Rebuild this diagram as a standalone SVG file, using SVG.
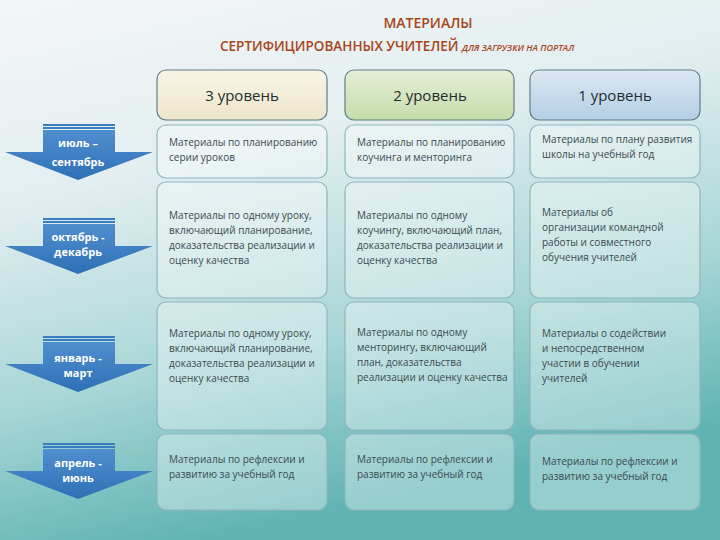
<svg xmlns="http://www.w3.org/2000/svg" width="720" height="540" viewBox="0 0 720 540">
<defs>
<linearGradient id="bg" x1="0" y1="0" x2="0.3" y2="1">
<stop offset="0" stop-color="#f4f6f7"/><stop offset="0.35" stop-color="#e2eef0"/><stop offset="0.7" stop-color="#a8d6d6"/><stop offset="1" stop-color="#5fb3b3"/>
</linearGradient>
<linearGradient id="h3" x1="0" y1="0" x2="0" y2="1"><stop offset="0" stop-color="#f8f4e6"/><stop offset="1" stop-color="#ede6cc"/></linearGradient>
<linearGradient id="h2" x1="0" y1="0" x2="0" y2="1"><stop offset="0" stop-color="#e4eed6"/><stop offset="1" stop-color="#c6dcab"/></linearGradient>
<linearGradient id="h1" x1="0" y1="0" x2="0" y2="1"><stop offset="0" stop-color="#dce8f3"/><stop offset="1" stop-color="#b4cfe5"/></linearGradient>
<linearGradient id="ar" x1="0" y1="0" x2="0" y2="1"><stop offset="0" stop-color="#4f8fd0"/><stop offset="1" stop-color="#2f6fb5"/></linearGradient>
<g id="arrow">
<rect x="43" y="0" width="72" height="2" fill="#3a7cc2"/>
<rect x="43" y="3" width="72" height="2" fill="#3a7cc2"/>
<path d="M43 6 H115 V28 H153 L78 56 L5 28 H43 Z" fill="url(#ar)"/>
</g>
</defs>
<style>
.cell{fill:#ffffff;fill-opacity:0.35;stroke:#8fb5bd;stroke-width:1.2}
.hdr{stroke:#5f7d86;stroke-width:1.2}
.t{font-family:"Open Sans","Liberation Sans",sans-serif;font-size:10px;fill:#3a4a50}
.h{font-family:"Open Sans","Liberation Sans",sans-serif;font-size:15px;fill:#1f2d33;text-anchor:middle}
.a{font-family:"Open Sans","Liberation Sans",sans-serif;font-size:11px;fill:#ffffff;font-weight:bold;text-anchor:middle}
.ti{font-family:"Open Sans","Liberation Sans",sans-serif;fill:#a8461a;font-weight:600}
</style>
<rect width="720" height="540" fill="url(#bg)"/>
<text class="ti" x="428" y="28" font-size="14" text-anchor="middle">МАТЕРИАЛЫ</text>
<text class="ti" x="220" y="51" font-size="13.5">СЕРТИФИЦИРОВАННЫХ УЧИТЕЛЕЙ <tspan font-size="9" font-style="italic">ДЛЯ ЗАГРУЗКИ НА ПОРТАЛ</tspan></text>

<g id="headers">
<rect class="hdr" x="157" y="70" width="170" height="50" rx="9" fill="url(#h3)"/>
<text class="h" x="242" y="101">3 уровень</text>
<rect class="hdr" x="345" y="70" width="169" height="50" rx="9" fill="url(#h2)"/>
<text class="h" x="430" y="101">2 уровень</text>
<rect class="hdr" x="530" y="70" width="170" height="50" rx="9" fill="url(#h1)"/>
<text class="h" x="615" y="101">1 уровень</text>
</g>

<g id="arrows">
<use href="#arrow" y="124"/><text class="a" x="78" y="147">июль –</text><text class="a" x="78" y="166">сентябрь</text>
<use href="#arrow" y="218"/><text class="a" x="78" y="241">октябрь -</text><text class="a" x="78" y="256">декабрь</text>
<use href="#arrow" y="336"/><text class="a" x="78" y="362">январь -</text><text class="a" x="78" y="377">март</text>
<use href="#arrow" y="443"/><text class="a" x="78" y="467">апрель -</text><text class="a" x="78" y="482">июнь</text>
</g>

<g id="row1">
<rect class="cell" x="157" y="125" width="170" height="53" rx="9"/>
<text class="t" x="169" y="146">Материалы по планированию</text><text class="t" x="169" y="161">серии уроков</text>
<rect class="cell" x="345" y="125" width="169" height="53" rx="9"/>
<text class="t" x="357" y="146">Материалы по планированию</text><text class="t" x="357" y="161">коучинга и менторинга</text>
<rect class="cell" x="530" y="125" width="170" height="53" rx="9"/>
<text class="t" x="542" y="143">Материалы по плану развития</text><text class="t" x="542" y="158">школы на учебный год</text>
</g>

<g id="row2">
<rect class="cell" x="157" y="182" width="170" height="116" rx="9"/>
<text class="t" x="169" y="219">Материалы по одному уроку,</text><text class="t" x="169" y="234">включающий планирование,</text><text class="t" x="169" y="249">доказательства реализации и</text><text class="t" x="169" y="264">оценку качества</text>
<rect class="cell" x="345" y="182" width="169" height="116" rx="9"/>
<text class="t" x="357" y="219">Материалы по одному</text><text class="t" x="357" y="234">коучингу, включающий план,</text><text class="t" x="357" y="249">доказательства реализации и</text><text class="t" x="357" y="264">оценку качества</text>
<rect class="cell" x="530" y="182" width="170" height="116" rx="9"/>
<text class="t" x="542" y="216">Материалы об</text><text class="t" x="542" y="231">организации командной</text><text class="t" x="542" y="246">работы и совместного</text><text class="t" x="542" y="261">обучения учителей</text>
</g>

<g id="row3">
<rect class="cell" x="157" y="302" width="170" height="128" rx="9"/>
<text class="t" x="169" y="337">Материалы  по одному уроку,</text><text class="t" x="169" y="352">включающий планирование,</text><text class="t" x="169" y="367">доказательства реализации и</text><text class="t" x="169" y="382">оценку качества</text>
<rect class="cell" x="345" y="302" width="169" height="128" rx="9"/>
<text class="t" x="357" y="336">Материалы по одному</text><text class="t" x="357" y="351">менторингу, включающий</text><text class="t" x="357" y="366">план, доказательства</text><text class="t" x="357" y="381">реализации и оценку качества</text>
<rect class="cell" x="530" y="302" width="170" height="128" rx="9"/>
<text class="t" x="542" y="337">Материалы о содействии</text><text class="t" x="542" y="352">и непосредственном</text><text class="t" x="542" y="367">участии в обучении</text><text class="t" x="542" y="382">учителей</text>
</g>

<g id="row4">
<rect class="cell" x="157" y="434" width="170" height="76" rx="9"/>
<text class="t" x="169" y="463">Материалы по рефлексии и</text><text class="t" x="169" y="478">развитию за учебный год</text>
<rect class="cell" x="345" y="434" width="169" height="76" rx="9"/>
<text class="t" x="357" y="463">Материалы по рефлексии и</text><text class="t" x="357" y="478">развитию за учебный год</text>
<rect class="cell" x="530" y="434" width="170" height="76" rx="9"/>
<text class="t" x="542" y="465">Материалы по рефлексии и</text><text class="t" x="542" y="480">развитию за учебный год</text>
</g>
</svg>
